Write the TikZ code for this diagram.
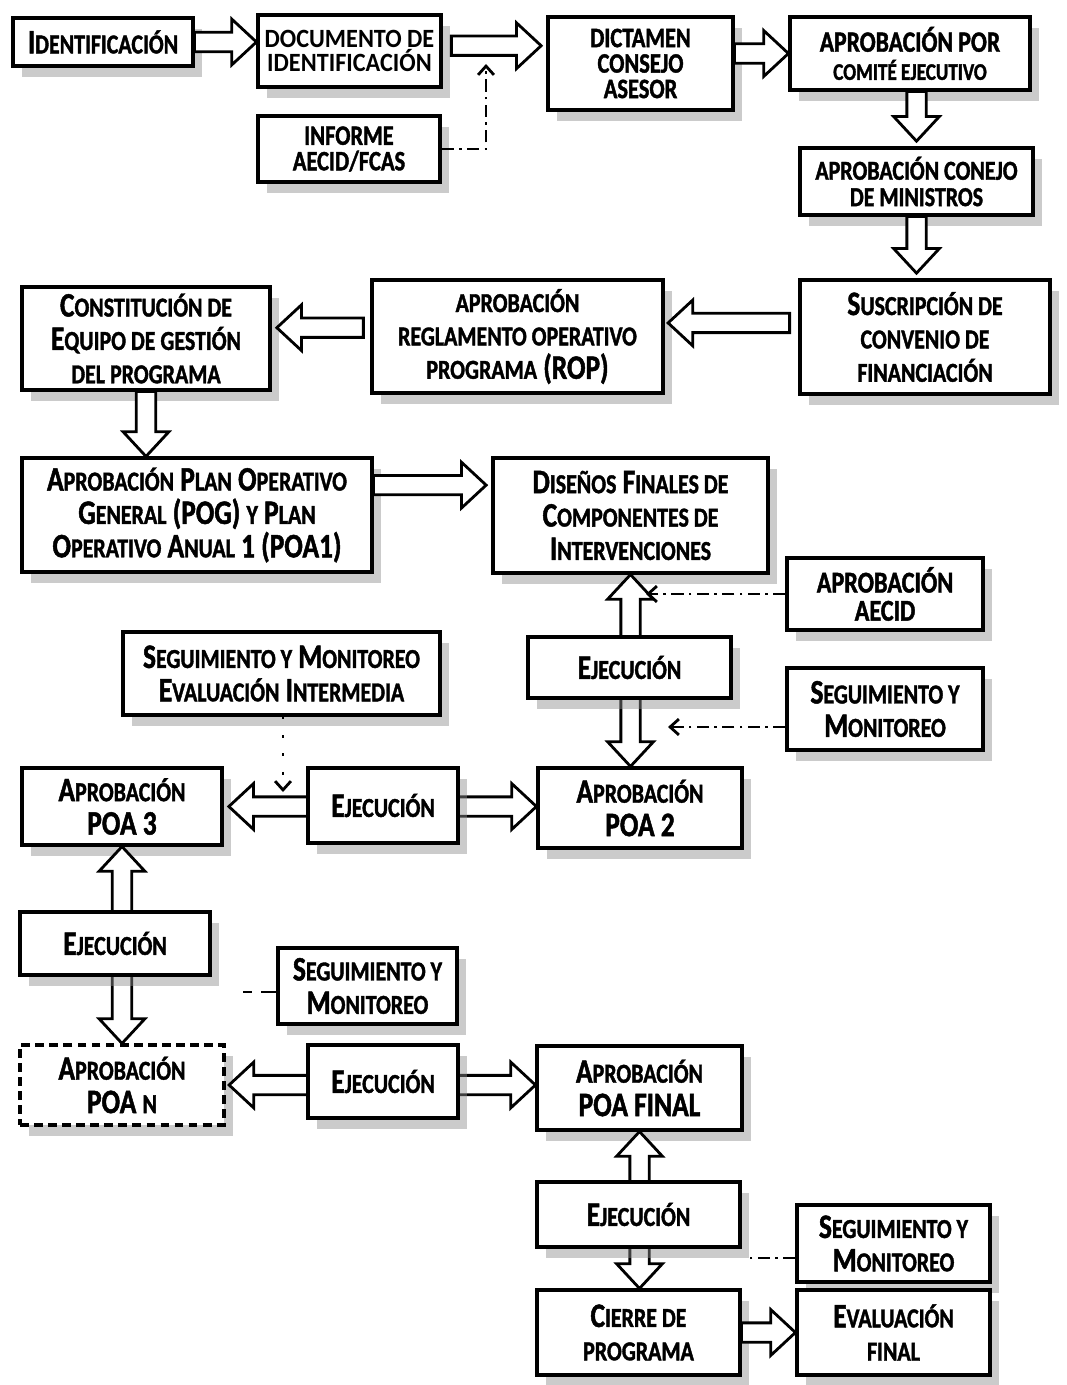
\documentclass[tikz,border=0pt]{standalone}
\usepackage{fontspec}
\setmainfont{Carlito}
\newfontfamily\cf[FakeStretch=0.8,FakeBold=1.4]{Carlito}
\newfontfamily\cfw[FakeStretch=0.92]{Carlito}
\usetikzlibrary{calc,shadows,arrows.meta}
\newcommand\s[1]{\scalebox{0.8}{\MakeUppercase{#1}}}
\def\arsw{5.5pt}\def\arhw{13pt}\def\arhl{14pt}
\newcommand\sarrow[2]{\path[blockarr] let \p1=#1, \p2=#2, \n1={atan2(\y2-\y1,\x2-\x1)}, \n2={veclen(\x2-\x1,\y2-\y1)} in
  [shift={(\p1)}, rotate=\n1] (0pt,-\arsw) -- ({\n2*1pt-\arhl},-\arsw) -- ({\n2*1pt-\arhl},-\arhw) -- ({\n2*1pt},0pt) -- ({\n2*1pt-\arhl},\arhw) -- ({\n2*1pt-\arhl},\arsw) -- (0pt,\arsw) -- cycle;}
\newcommand\darrow[2]{\path[blockarr] let \p1=#1, \p2=#2, \n1={atan2(\y2-\y1,\x2-\x1)}, \n2={veclen(\x2-\x1,\y2-\y1)} in
  [shift={(\p1)}, rotate=\n1] (0pt,0pt) -- (\arhl,\arhw) -- (\arhl,\arsw) -- ({\n2*1pt-\arhl},\arsw) -- ({\n2*1pt-\arhl},\arhw) -- ({\n2*1pt},0pt) -- ({\n2*1pt-\arhl},-\arhw) -- ({\n2*1pt-\arhl},-\arsw) -- (\arhl,-\arsw) -- (\arhl,-\arhw) -- cycle;}
\newcommand\bx[7][]{\node[box,#1,minimum width={(#5-#3)*0.02cm}, minimum height={(#6-#4)*0.02cm}] (#2) at ({(#3+#5)/2},{(#4+#6)/2}) {#7};}
\newcommand\fs[2]{\fontsize{#1}{#2}\selectfont}
\tikzset{
  box/.style={draw, line width=1.8pt, fill=white, align=center, inner sep=2pt,
    font=\cf\bfseries\fs{19.5}{19},
    drop shadow={shadow xshift=5pt, shadow yshift=-6pt, fill=black!45, opacity=0.45}},
  blockarr/.style={draw, line width=1.6pt, fill=white, line join=miter},
  conn/.style={line width=1.6pt, dash pattern=on 7pt off 3pt on 1.5pt off 3pt},
  tip/.style={-{Straight Barb[length=5pt,width=9pt,line width=1.6pt]}}
}
\begin{document}
\begin{tikzpicture}[x=0.02cm,y=-0.02cm]
\useasboundingbox (0,0) rectangle (1066,1385);
\bx{ident}{13}{18}{193}{66}{I\s{dentificación}}
\bx[font=\cfw\bfseries\fs{15}{14}]{doc}{258}{15}{441}{87}{DOCUMENTO DE\\IDENTIFICACIÓN}
\bx[font=\cf\bfseries\fs{20}{14.5}]{dict}{548}{17}{733}{110}{\s{dictamen}\\\s{consejo}\\\s{asesor}}
\bx[font=\cf\bfseries\fs{20}{14.5}]{inf}{258}{116}{440}{182}{\s{informe}\\\s{aecid/fcas}}
\bx[font=\cf\bfseries\fs{21}{16}]{aprcom}{790}{17}{1030}{90}{\s{aprobación por}\\{\fs{17}{16}\s{comité ejecutivo}}}
\bx[font=\cf\bfseries\fs{19.5}{15}]{conejo}{800}{148}{1033}{215}{\s{aprobación conejo}\\\s{de ministros}}
\bx{susc}{800}{280}{1050}{394}{S\s{uscripción de}\\\s{convenio de}\\\s{financiación}}
\bx{rop}{372}{280}{663}{393}{\s{aprobación}\\\s{reglamento operativo}\\\s{programa} (ROP)}
\bx{const}{22}{287}{270}{390}{C\s{onstitución de}\\E\s{quipo de gestión}\\\s{del programa}}
\bx{pog}{22}{458}{372}{572}{A\s{probación} P\s{lan} O\s{perativo}\\G\s{eneral} (POG) \s{y} P\s{lan}\\O\s{perativo} A\s{nual} 1 (POA1)}
\bx{dis}{493}{458}{768}{573}{D\s{iseños} F\s{inales de}\\C\s{omponentes de}\\I\s{ntervenciones}}
\bx[font=\cf\bfseries\fs{21.5}{16}]{aecid}{787}{558}{983}{630}{\s{aprobación}\\\s{aecid}}
\bx{seg1}{787}{668}{983}{750}{S\s{eguimiento y}\\M\s{onitoreo}}
\bx{segint}{123}{632}{440}{715}{S\s{eguimiento y} M\s{onitoreo}\\E\s{valuación} I\s{ntermedia}}
\bx{poa3}{22}{768}{222}{845}{A\s{probación}\\POA 3}
\bx{poa2}{538}{768}{742}{848}{A\s{probación}\\POA 2}
\bx{seg2}{278}{948}{457}{1024}{S\s{eguimiento y}\\M\s{onitoreo}}
\bx[dash pattern=on 5pt off 3pt]{poan}{20}{1045}{224}{1125}{A\s{probación}\\POA \s{n}}
\bx{poafin}{537}{1046}{742}{1130}{A\s{probación}\\POA FINAL}
\bx{seg3}{797}{1205}{990}{1282}{S\s{eguimiento y}\\M\s{onitoreo}}
\bx{cierre}{537}{1290}{740}{1375}{C\s{ierre de}\\\s{programa}}
\bx{eval}{797}{1290}{990}{1375}{E\s{valuación}\\\s{final}}
% single block arrows
\sarrow{(ident.east)}{(doc.west|-ident.east)}
\sarrow{($(doc.east)+(5pt,3pt)$)}{($(dict.west|-doc.east)+(-3pt,3pt)$)}
\sarrow{(dict.east|-aprcom.west)}{(aprcom.west)}
\sarrow{(conejo.north|-aprcom.south)}{($(conejo.north)+(0pt,3pt)$)}
\sarrow{(conejo.south)}{($(conejo.south|-susc.north)+(0pt,3pt)$)}
\sarrow{($(susc.west)+(-5pt,8pt)$)}{($(rop.east|-susc.west)+(2pt,8pt)$)}
\sarrow{($(rop.west)+(-4pt,5pt)$)}{($(const.east|-rop.west)+(3pt,5pt)$)}
\sarrow{(const.south)}{(const.south|-pog.north)}
\sarrow{($(pog.east)+(0pt,17pt)$)}{($(dis.west|-pog.east)+(-3pt,17pt)$)}
\sarrow{(cierre.east)}{(eval.west|-cierre.east)}
% double block arrows
\darrow{(dis.south)}{(dis.south|-poa2.north)}
\darrow{($(poa3.east)+(3pt,0pt)$)}{(poa2.west|-poa3.east)}
\darrow{(poa3.south)}{(poa3.south|-poan.north)}
\darrow{($(poan.east)+(2pt,0pt)$)}{(poafin.west|-poan.east)}
\darrow{(poafin.south)}{(poafin.south|-cierre.north)}
% execution boxes
\bx{ej1}{528}{637}{731}{698}{E\s{jecución}}
\bx{ej2}{308}{768}{458}{843}{E\s{jecución}}
\bx{ej3}{20}{912}{210}{975}{E\s{jecución}}
\bx{ej4}{308}{1045}{458}{1118}{E\s{jecución}}
\bx{ej5}{537}{1182}{740}{1247}{E\s{jecución}}
% dashed connectors
\coordinate (c1) at (486,64);
\draw[conn,tip] (inf.east) -| (c1);
\coordinate (c2) at (646,594);
\draw[conn,tip] (aecid.west) -- (c2);
\coordinate (c3) at (668,727);
\draw[conn,tip] (seg1.west|-c3) -- (c3);
\coordinate (c4) at (283,792);
\draw[line width=1.6pt, dash pattern=on 1.5pt off 9pt,tip] (segint.south-|c4) -- (c4);
\coordinate (c5) at (243,992);
\draw[line width=1.6pt, dash pattern=on 9pt off 5pt] (seg2.west|-c5) -- (c5);
\coordinate (c6) at (745,1258);
\draw[conn] (seg3.west|-c6) -- (c6);
\end{tikzpicture}
\end{document}
